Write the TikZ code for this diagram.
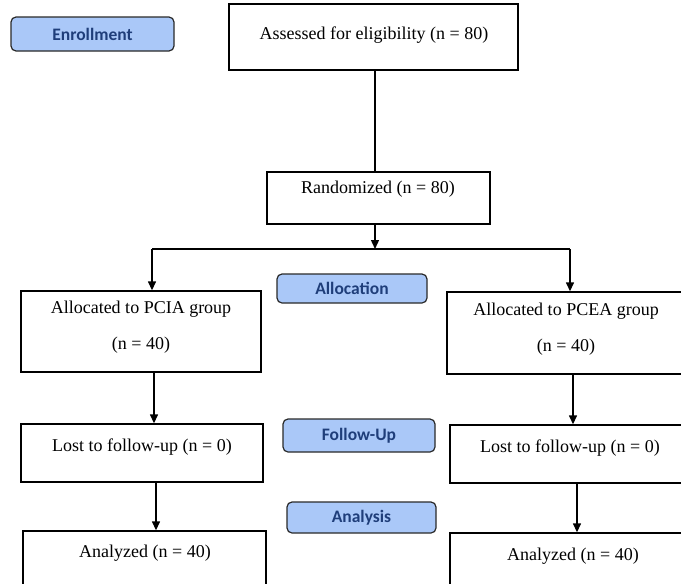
\documentclass[tikz,border=0pt]{standalone}
\usepackage{fontspec}
\setmainfont{Liberation Serif}
\newfontfamily\phasefont{Carlito}
\usetikzlibrary{arrows.meta}
\definecolor{phasefill}{HTML}{AAC8F8}
\definecolor{phasetext}{HTML}{1F3E7A}
\definecolor{phaseline}{HTML}{2A2A2A}
\tikzset{
  box/.style={draw=black, line width=1.4pt, rectangle, inner sep=0pt},
  txt/.style={font=\fontsize{18}{21}\selectfont, inner sep=0pt, text=black},
  phase/.style={draw=phaseline, fill=phasefill, line width=1.2pt, rounded corners=5pt,
    inner sep=0pt, text=phasetext, font=\phasefont\bfseries\fontsize{17.5}{20}\selectfont},
  link/.style={line width=1.4pt},
  arr/.style={line width=1.4pt, -{Triangle[length=9pt,width=8pt]}}
}
\begin{document}
\begin{tikzpicture}[x=1pt,y=-1pt]
\useasboundingbox (0,0) rectangle (681,584);
\fill[white] (0,0) rectangle (681,584);
\clip (0,0) rectangle (681,584);

% phase labels
\node[phase, minimum width=163pt, minimum height=34pt] (enr) at (92.5,34) {Enrollment};
\node[phase, minimum width=150pt, minimum height=29pt] (alc) at (352,288.5) {Allocation};
\node[phase, minimum width=152pt, minimum height=33pt] (fol) at (359,435.5) {Follow-Up};
\node[phase, minimum width=149pt, minimum height=31pt] (ana) at (361.5,517.5) {Analysis};

% boxes
\node[box, minimum width=289pt, minimum height=66pt] (assess) at (373.5,37) {};
\node[txt] (tassess) at (374,35) {Assessed for eligibility (n = 80)};
\node[box, minimum width=223pt, minimum height=52pt] (rand) at (378.5,198) {};
\node[txt] (trand) at (378,189) {Randomized (n = 80)};

\node[box, minimum width=240pt, minimum height=81pt] (alloL) at (141,331.5) {};
\node[txt] (talloL1) at (141,309) {Allocated to PCIA group};
\node[txt] (talloL2) at (141,345) {(n = 40)};
\node[box, minimum width=243pt, minimum height=82pt] (alloR) at (568.5,333) {};
\node[txt] (talloR1) at (566,311) {Allocated to PCEA group};
\node[txt] (talloR2) at (566,347) {(n = 40)};

\node[box, minimum width=242pt, minimum height=58pt] (lostL) at (142,453) {};
\node[txt] (tlostL) at (142,447) {Lost to follow-up (n = 0)};
\node[box, minimum width=242pt, minimum height=58pt] (lostR) at (571,454) {};
\node[txt] (tlostR) at (570,448) {Lost to follow-up (n = 0)};

\node[box, minimum width=243pt, minimum height=69pt] (anaL) at (144.5,565.5) {};
\node[txt] (tanaL) at (145,553) {Analyzed (n = 40)};
\node[box, minimum width=250pt, minimum height=67pt] (anaR) at (575,566.5) {};
\node[txt] (tanaR) at (573,556) {Analyzed (n = 40)};

% connector coordinates
\coordinate (j) at (375,249);
\coordinate (jl) at (152,249);
\coordinate (jr) at (570,249);
\coordinate (xl1) at (154,0);
\coordinate (xl2) at (156,0);
\coordinate (xr1) at (573,0);
\coordinate (xr2) at (577,0);

% connectors
\draw[link] (assess.south -| j) -- (rand.north -| j);
\draw[arr] (rand.south -| j) -- (j);
\draw[link] (jl) -- (jr);
\draw[arr] (jl) -- (jl |- alloL.north);
\draw[arr] (jr) -- (jr |- alloR.north);
\draw[arr] (alloL.south -| xl1) -- (lostL.north -| xl1);
\draw[arr] (alloR.south -| xr1) -- (lostR.north -| xr1);
\draw[arr] (lostL.south -| xl2) -- (anaL.north -| xl2);
\draw[arr] (lostR.south -| xr2) -- (anaR.north -| xr2);
\end{tikzpicture}
\end{document}
